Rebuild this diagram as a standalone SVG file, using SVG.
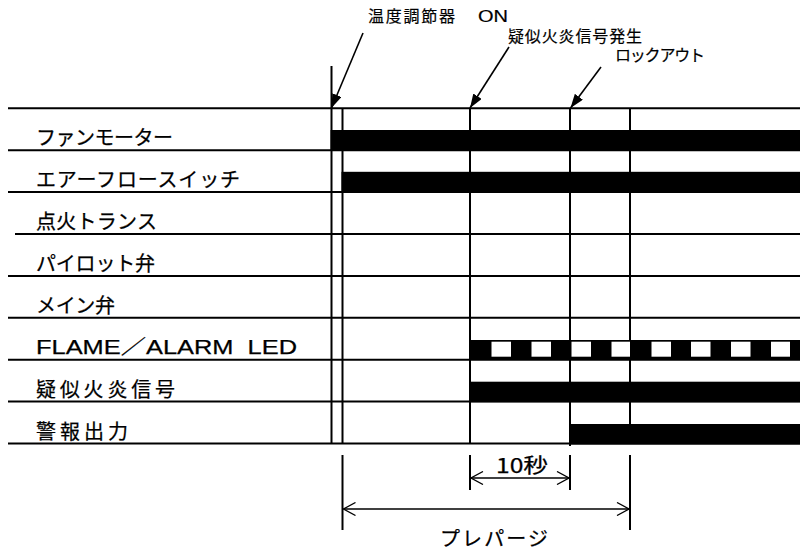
<svg xmlns="http://www.w3.org/2000/svg" width="800" height="553" viewBox="0 0 800 553">
<style>
  .lbl { font-family: "Noto Sans CJK JP", "Noto Sans", sans-serif; font-size: 20px; fill: #000; stroke: #000; stroke-width: 0.25; }
  .top { font-family: "Noto Sans CJK JP", "Noto Sans", sans-serif; font-size: 16px; fill: #000; stroke: #000; stroke-width: 0.2; }
  .lat { font-family: "Liberation Sans", "Noto Sans CJK JP", sans-serif; }
  .ln { stroke: #000; stroke-width: 2; fill: none; }
  .bar { fill: #000; }
  .sq { fill: #fff; }
  .ptr { stroke: #000; stroke-width: 1.6; fill: none; marker-end: url(#tri); }
  .dim { stroke: #000; stroke-width: 1.3; fill: none; marker-start: url(#chev); marker-end: url(#chev); }
</style>
<defs>
  <marker id="tri" viewBox="0 0 14 10" refX="14" refY="5" markerWidth="14" markerHeight="10" markerUnits="userSpaceOnUse" orient="auto">
    <path d="M0,0 L14,5 L0,10 z" fill="#000"/>
  </marker>
  <marker id="chev" viewBox="0 0 14 14" refX="13" refY="7" markerWidth="14" markerHeight="14" markerUnits="userSpaceOnUse" orient="auto-start-reverse">
    <path d="M1,0.5 L13,7 L1,13.5" fill="none" stroke="#000" stroke-width="1.3"/>
  </marker>
</defs>
<rect width="800" height="553" fill="#fff"/>

<g id="grid">
  <line class="ln" x1="8" y1="108.3" x2="800" y2="108.3"/>
  <line class="ln" x1="331.5" y1="66" x2="331.5" y2="443.5"/>
  <line class="ln" x1="342.5" y1="108.3" x2="342.5" y2="443.5"/>
  <line class="ln" x1="470" y1="108.3" x2="470" y2="443.5"/>
  <line class="ln" x1="570" y1="108.3" x2="570" y2="446"/>
  <line class="ln" x1="630" y1="108.3" x2="630" y2="443.5"/>
</g>

<g id="row-fan">
  <line class="ln" x1="8" y1="150.2" x2="800" y2="150.2"/>
  <rect class="bar" x="330.5" y="130" width="469.5" height="20.5"/>
  <text class="lbl" x="36" y="145" textLength="137" lengthAdjust="spacing">ファンモーター</text>
</g>

<g id="row-afs">
  <line class="ln" x1="8" y1="192.1" x2="800" y2="192.1"/>
  <rect class="bar" x="341.5" y="171.8" width="458.5" height="20.8"/>
  <text class="lbl" x="36" y="187" textLength="204" lengthAdjust="spacing">エアーフロースイッチ</text>
</g>

<g id="row-ign">
  <line class="ln" x1="15" y1="234" x2="800" y2="234"/>
  <text class="lbl" x="36" y="229" textLength="121" lengthAdjust="spacing">点火トランス</text>
</g>

<g id="row-pilot">
  <line class="ln" x1="8" y1="275.9" x2="800" y2="275.9"/>
  <text class="lbl" x="36" y="270.5" textLength="119" lengthAdjust="spacing">パイロット弁</text>
</g>

<g id="row-main">
  <line class="ln" x1="8" y1="317.8" x2="800" y2="317.8"/>
  <text class="lbl" x="36" y="312.5" textLength="79" lengthAdjust="spacing">メイン弁</text>
</g>

<g id="row-led">
  <line class="ln" x1="8" y1="359.7" x2="800" y2="359.7"/>
  <rect class="bar" x="469" y="340" width="331" height="19"/>
  <rect class="sq" x="491.5" y="341.7" width="19.5" height="15"/>
  <rect class="sq" x="531.5" y="341.7" width="19.5" height="15"/>
  <rect class="sq" x="571.5" y="341.7" width="19.5" height="15"/>
  <rect class="sq" x="611.5" y="341.7" width="18.5" height="15"/>
  <rect class="sq" x="651.5" y="341.7" width="19.5" height="15"/>
  <rect class="sq" x="691" y="341.7" width="19.5" height="15"/>
  <rect class="sq" x="731" y="341.7" width="19.5" height="15"/>
  <rect class="sq" x="771" y="341.7" width="19" height="15"/>
  <text class="lbl lat" x="36" y="354" textLength="261" lengthAdjust="spacingAndGlyphs" xml:space="preserve">FLAME／ALARM  LED</text>
</g>

<g id="row-fake">
  <line class="ln" x1="8" y1="401.6" x2="800" y2="401.6"/>
  <rect class="bar" x="469" y="381.7" width="331" height="20.5"/>
  <text class="lbl" x="36" y="396.5" textLength="139" lengthAdjust="spacing">疑似火炎信号</text>
</g>

<g id="row-alarm">
  <line class="ln" x1="8" y1="443.5" x2="800" y2="443.5"/>
  <rect class="bar" x="569" y="424" width="231" height="20.5"/>
  <text class="lbl" x="36" y="438.5" textLength="92" lengthAdjust="spacing">警報出力</text>
</g>

<g id="ev-thermo">
  <text class="top" x="368" y="21.5" textLength="87" lengthAdjust="spacing">温度調節器</text>
  <text class="top lat" x="478" y="21.5" textLength="30" lengthAdjust="spacingAndGlyphs">ON</text>
</g>
<g id="ev-fake">
  <text class="top" x="508" y="42" textLength="134" lengthAdjust="spacing">疑似火炎信号発生</text>
</g>
<g id="ev-lock">
  <text class="top" x="615" y="61" textLength="90" lengthAdjust="spacing">ロックアウト</text>
</g>

<g id="dim-10s">
  <line class="ln" x1="470" y1="455" x2="470" y2="490"/>
  <line class="ln" x1="570" y1="455" x2="570" y2="490"/>
  <text class="lbl" x="496" y="473" textLength="52" lengthAdjust="spacingAndGlyphs">10秒</text>
</g>
<g id="dim-prepurge">
  <line class="ln" x1="342.5" y1="455" x2="342.5" y2="530"/>
  <line class="ln" x1="630" y1="455" x2="630" y2="530"/>
  <text class="lbl" x="440" y="546" textLength="108" lengthAdjust="spacing">プレパージ</text>
</g>

<g id="connectors">
  <line class="ptr" x1="363" y1="33" x2="331.5" y2="108"/>
  <line class="ptr" x1="509" y1="47" x2="470" y2="108"/>
  <line class="ptr" x1="601" y1="67" x2="570.5" y2="108"/>
  <line class="dim" x1="471" y1="478" x2="569" y2="478"/>
  <line class="dim" x1="343.5" y1="509" x2="629" y2="509"/>
</g>
</svg>
